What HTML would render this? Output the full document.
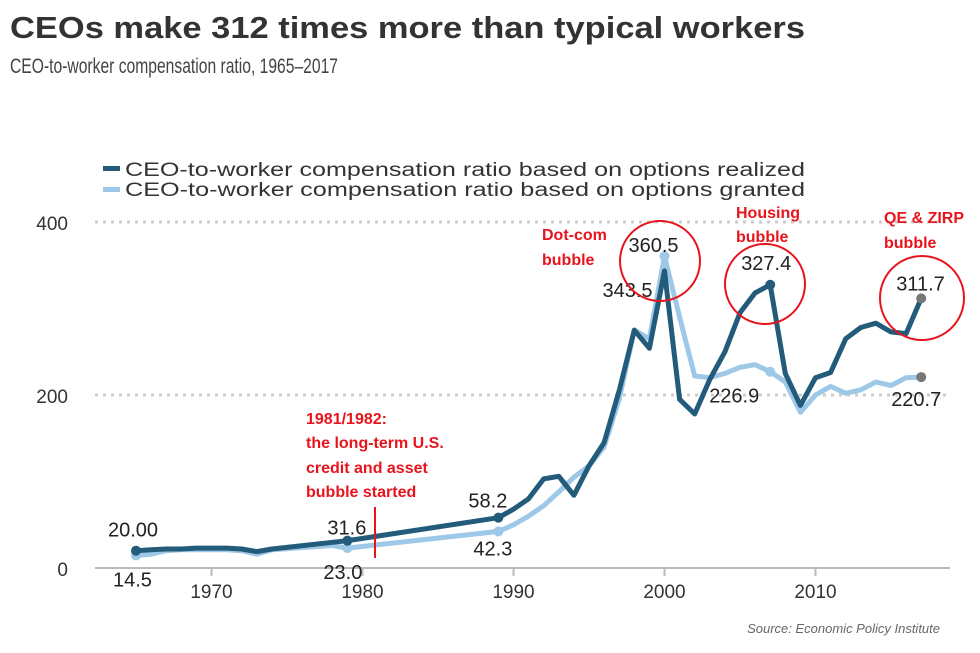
<!DOCTYPE html>
<html><head><meta charset="utf-8"><style>
html,body{margin:0;padding:0;background:#fff;}
svg{display:block;font-family:"Liberation Sans",sans-serif;}
</style></head><body>
<svg id="chart" width="980" height="653" viewBox="0 0 980 653">
<text x="10" y="38" font-size="31" font-weight="bold" fill="#333" textLength="795" lengthAdjust="spacingAndGlyphs">CEOs make 312 times more than typical workers</text>
<text x="10" y="73" font-size="21" fill="#444" textLength="328" lengthAdjust="spacingAndGlyphs">CEO-to-worker compensation ratio, 1965–2017</text>
<g>
<rect x="103" y="166" width="17" height="5" fill="#235b7a"/>
<text x="125" y="176" font-size="19" fill="#333" textLength="680" lengthAdjust="spacingAndGlyphs">CEO-to-worker compensation ratio based on options realized</text>
<rect x="103" y="187" width="17" height="5" fill="#9ec8e8"/>
<text x="125" y="196" font-size="19" fill="#333" textLength="680" lengthAdjust="spacingAndGlyphs">CEO-to-worker compensation ratio based on options granted</text>
</g>
<g id="grid"></g><g id="axes"></g><g id="series"></g><g id="labels"></g>
<g font-weight="bold" fill="#e8141c" font-size="16">
<text x="306" y="424">1981/1982:</text>
<text x="306" y="448">the long-term U.S.</text>
<text x="306" y="473">credit and asset</text>
<text x="306" y="497">bubble started</text>
<line x1="375" y1="507" x2="375" y2="558" stroke="#e8141c" stroke-width="2"/>
<text x="542" y="240">Dot-com</text>
<text x="542" y="265">bubble</text>
<text x="736" y="218">Housing</text>
<text x="736" y="242">bubble</text>
<text x="884" y="223">QE &amp; ZIRP</text>
<text x="884" y="248">bubble</text>
<circle cx="660" cy="261" r="40" fill="none" stroke="#e8141c" stroke-width="2"/>
<circle cx="765" cy="284" r="40" fill="none" stroke="#e8141c" stroke-width="2"/>
<circle cx="922" cy="298" r="42" fill="none" stroke="#e8141c" stroke-width="2"/>
</g>
<text x="940" y="633" font-size="13" font-style="italic" fill="#666" text-anchor="end">Source: Economic Policy Institute</text>
</svg>
<script>
const yTicks=[0,200,400];
const xTicks=[1970,1980,1990,2000,2010];
const realizedYears=[1965,1966,1967,1968,1969,1970,1971,1972,1973,1974,1979,1989,1990,1991,1992,1993,1994,1995,1996,1997,1998,1999,2000,2001,2002,2003,2004,2005,2006,2007,2008,2009,2010,2011,2012,2013,2014,2015,2016,2017];
const realizedValues=[20,21,22,22,23,23,23,22,19,22,31.6,58.2,68,80,103,106,84,118,145,205,275,254,343.5,195,178,218,250,295,318,327.4,225,188,220,226,265,278,283,273,271,311.7];
const grantedYears=[1965,1966,1967,1968,1969,1970,1971,1972,1973,1974,1978,1979,1989,1990,1991,1992,1993,1994,1995,1996,1997,1998,1999,2000,2001,2002,2003,2004,2005,2006,2007,2008,2009,2010,2011,2012,2013,2014,2015,2016,2017];
const grantedValues=[14.5,16,20,21,21,21,21,20,16,21,26,23.0,42.3,50,60,72,88,105,118,140,195,275,265,360.5,290,222,220,225,232,235,226.9,215,180,200,210,202,206,215,211,220,220.7];
const pointLabels=[
 {t:"20.00",year:1965,v:20,dx:-28,dy:-14},
 {t:"14.5",year:1965,v:14.5,dx:-23,dy:31},
 {t:"31.6",year:1979,v:31.6,dx:-20,dy:-6},
 {t:"23.0",year:1979,v:23.0,dx:-24,dy:31},
 {t:"58.2",year:1989,v:58.2,dx:-30,dy:-10},
 {t:"42.3",year:1989,v:42.3,dx:-25,dy:24},
 {t:"360.5",year:2000,v:360.5,dx:-36,dy:-4},
 {t:"343.5",year:2000,v:343.5,dx:-62,dy:26},
 {t:"327.4",year:2007,v:327.4,dx:-29,dy:-15},
 {t:"226.9",year:2007,v:226.9,dx:-61,dy:31},
 {t:"311.7",year:2017,v:311.7,dx:-25,dy:-8},
 {t:"220.7",year:2017,v:220.7,dx:-30,dy:29}
];
const NS="http://www.w3.org/2000/svg";
function xS(y){return 136+(y-1965)*15.1;}
function yS(v){return 568-v*0.865;}
function mk(tag,attrs,parent){const e=document.createElementNS(NS,tag);for(const k in attrs)e.setAttribute(k,attrs[k]);parent.appendChild(e);return e;}
const grid=document.getElementById('grid'),axes=document.getElementById('axes'),series=document.getElementById('series'),labels=document.getElementById('labels');
yTicks.forEach(v=>{
 if(v>0){const l=mk('line',{x1:95,x2:950,y1:yS(v),y2:yS(v),stroke:'#ccc','stroke-width':3,'stroke-dasharray':'3,5'},grid);
 
 }
 const t=mk('text',{x:68,y:yS(v)+8,'font-size':19,fill:'#333','text-anchor':'end'},axes);
 t.textContent=v;
 
 
});
const ax=mk('line',{x1:95,x2:950,y1:568,y2:568,stroke:'#bbb','stroke-width':2},axes);


xTicks.forEach(y=>{
 const tk=mk('line',{x1:xS(y),x2:xS(y),y1:568,y2:576,stroke:'#bbb','stroke-width':2},axes);
 
 
 const t=mk('text',{x:xS(y),y:598,'font-size':19,fill:'#333','text-anchor':'middle'},axes);
 t.textContent=y;
 
 
});
function path(ys,vs){return ys.map((y,i)=>(i?'L':'M')+xS(y).toFixed(1)+','+yS(vs[i]).toFixed(1)).join(' ');}
const g=mk('path',{d:path(grantedYears,grantedValues),fill:'none',stroke:'#9ec8e8','stroke-width':5,'stroke-linejoin':'round'},series);


const r=mk('path',{d:path(realizedYears,realizedValues),fill:'none',stroke:'#235b7a','stroke-width':5,'stroke-linejoin':'round'},series);


[[1965,14.5,'#9ec8e8'],[1979,23,'#9ec8e8'],[1989,42.3,'#9ec8e8'],[2000,360.5,'#9ec8e8'],[2007,226.9,'#9ec8e8'],[2017,220.7,'#777'],
 [1965,20,'#235b7a'],[1979,31.6,'#235b7a'],[1989,58.2,'#235b7a'],[2007,327.4,'#235b7a'],[2017,311.7,'#777']].forEach((p,i)=>{
 const c=mk('circle',{cx:xS(p[0]),cy:yS(p[1]),r:5,fill:p[2]},series);
 
 
});
pointLabels.forEach(p=>{
 const t=mk('text',{x:xS(p.year)+p.dx,y:yS(p.v)+p.dy,'font-size':20,fill:'#222'},labels);
 t.textContent=p.t;
 
 
});
</script>
</body></html>
